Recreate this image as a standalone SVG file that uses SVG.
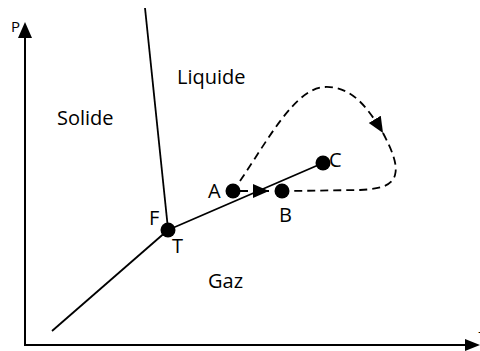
<svg xmlns="http://www.w3.org/2000/svg" width="480" height="351" viewBox="0 0 480 351">
<style>
.ax{stroke:#000;stroke-width:2;fill:none}
.ln{stroke:#000;stroke-width:1.8;fill:none}
.ds{stroke:#000;stroke-width:1.8;fill:none;stroke-dasharray:8 5}
.pt{fill:#000}
text{font-family:"Open Sans","Liberation Sans",sans-serif;font-size:20px;fill:#000}
.sm{font-size:15px}
</style>
<defs>
<marker id="ah" markerUnits="userSpaceOnUse" markerWidth="18" markerHeight="16" refX="16" refY="7" orient="auto">
<polygon points="0,0 16,7 0,14" fill="#000"/>
</marker>
</defs>
<rect width="480" height="351" fill="#fff"/>
<g id="axes">
<line class="ax" x1="25" y1="345" x2="25" y2="36"/>
<polygon points="18,38 32,38 25,22" fill="#000"/>
<line class="ax" x1="24" y1="345" x2="467" y2="345"/>
<polygon points="465,339 465,351 480,345" fill="#000"/>
<text class="sm" x="11" y="32">P</text>
<text class="sm" x="478.5" y="342">T</text>
</g>
<g id="connectors">
<line class="ln" x1="145" y1="8" x2="168" y2="229"/>
<line class="ln" x1="52" y1="331" x2="168" y2="230"/>
<line class="ln" x1="168" y1="230" x2="323" y2="163"/>
<path class="ds" d="M240,181 C268,140 295,88 325,87 C352,86 368,108 383,133" marker-end="url(#ah)"/>
<path class="ds" d="M383,133 C392,150 398,165 395,175 C392,186 380,189 360,190 L290,191"/>
<path class="ds" d="M240,191 L269,191" stroke-dasharray="6 4" marker-end="url(#ah)"/>
</g>
<g id="regions">
<text x="57" y="125">Solide</text>
<text x="177" y="84">Liquide</text>
<text x="208" y="288">Gaz</text>
</g>
<g id="T-point"><circle class="pt" cx="168" cy="230" r="7.5"/><text x="149" y="225">F</text><text x="172" y="253">T</text></g>
<g id="A-point"><circle class="pt" cx="233" cy="191" r="7.5"/><text x="208" y="198">A</text></g>
<g id="B-point"><circle class="pt" cx="282" cy="191" r="7.5"/><text x="279" y="222">B</text></g>
<g id="C-point"><circle class="pt" cx="323" cy="163" r="7.5"/><text x="329" y="167">C</text></g>
</svg>
